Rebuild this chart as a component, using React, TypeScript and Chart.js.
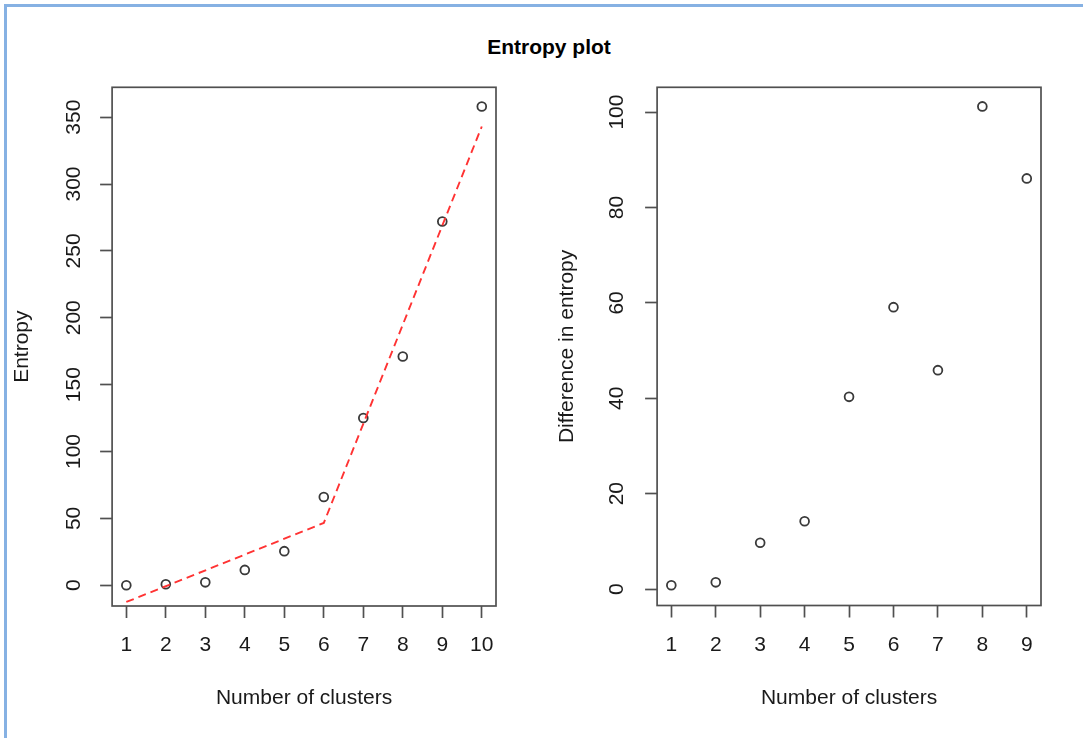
import React, { useEffect, useRef } from "react";
import { Chart, registerables } from "chart.js";

Chart.register(...registerables);

// ---- Data ----
const clusters = [1, 2, 3, 4, 5, 6, 7, 8, 9, 10];
const entropy = [0, 0.8, 2.2, 11.5, 25.5, 66, 125, 171, 272, 358];
const fitClusters = [1, 6, 10];
const fitEntropy = [-12.5, 46.6, 343];
const diffClusters = [1, 2, 3, 4, 5, 6, 7, 8, 9];
const diffEntropy = [0.8, 1.4, 9.7, 14.2, 40.3, 59.1, 45.9, 101.2, 86.1];

const entropyTicks = [0, 50, 100, 150, 200, 250, 300, 350];
const entropyTickLabels = ["0", "50", "100", "150", "200", "250", "300", "350"];
const diffTicks = [0, 20, 40, 60, 80, 100];
const diffTickLabels = ["0", "20", "40", "60", "80", "100"];
const leftXTicks = clusters;
const leftXTickLabels = clusters.map(String);
const rightXTicks = diffClusters;
const rightXTickLabels = diffClusters.map(String);

const FONT = "'Liberation Sans', Arial, sans-serif";
const TEXT = "#1a1a1a";
const AXIS = "#505050";

const framePlugin = {
  id: "frame",
  afterDraw(chart: any) {
    const { ctx, chartArea: a } = chart;
    ctx.save();
    ctx.strokeStyle = AXIS;
    ctx.lineWidth = 1.7;
    ctx.strokeRect(a.left, a.top, a.right - a.left, a.bottom - a.top);
    ctx.restore();
  },
};

function makeConfig(p: any) {
  const font = { family: FONT, size: 21 };
  return {
    type: "scatter",
    data: { datasets: p.datasets },
    options: {
      responsive: false,
      animation: false,
      events: [],
      layout: { padding: p.padding },
      plugins: { legend: { display: false }, tooltip: { enabled: false }, title: { display: false } },
      scales: {
        x: {
          type: "linear",
          position: "bottom",
          min: p.xMin,
          max: p.xMax,
          afterBuildTicks: (s: any) => {
            s.ticks = p.xTicks.map((v: number) => ({ value: v }));
          },
          afterFit: (s: any) => {
            s.height = p.xHeight;
          },
          ticks: {
            font,
            color: TEXT,
            padding: p.xPad,
            minRotation: 0,
            maxRotation: 0,
            autoSkip: false,
            callback: (_v: any, i: number) => p.xTickLabels[i],
          },
          grid: {
            display: true,
            drawOnChartArea: false,
            drawTicks: true,
            tickLength: 12,
            tickColor: AXIS,
            tickWidth: 1.7,
          },
          border: { display: false },
          title: {
            display: true,
            text: "Number of clusters",
            font,
            color: TEXT,
            padding: { top: 0, bottom: 0 },
          },
        },
        y: {
          type: "linear",
          position: "left",
          min: p.yMin,
          max: p.yMax,
          afterBuildTicks: (s: any) => {
            s.ticks = p.yTicks.map((v: number) => ({ value: v }));
          },
          afterFit: (s: any) => {
            s.width = 102;
          },
          ticks: {
            font,
            color: TEXT,
            padding: p.yPad,
            minRotation: 90,
            maxRotation: 90,
            crossAlign: "center",
            autoSkip: false,
            callback: (_v: any, i: number) => p.yTickLabels[i],
          },
          grid: {
            display: true,
            drawOnChartArea: false,
            drawTicks: true,
            tickLength: 12,
            tickColor: AXIS,
            tickWidth: 1.7,
          },
          border: { display: false },
          title: {
            display: true,
            text: p.yTitle,
            font,
            color: TEXT,
            padding: { top: 0, bottom: 0 },
          },
        },
      },
    },
    plugins: [framePlugin],
  };
}

const pointStyle = {
  showLine: false,
  pointStyle: "circle",
  pointRadius: 4.4,
  pointBorderWidth: 1.8,
  borderColor: "#3a3a3a",
  backgroundColor: "rgba(0,0,0,0)",
  pointBackgroundColor: "rgba(0,0,0,0)",
};

export default function App() {
  const leftRef = useRef<HTMLCanvasElement>(null);
  const rightRef = useRef<HTMLCanvasElement>(null);

  useEffect(() => {
    const left = new Chart(
      leftRef.current as any,
      makeConfig({
        padding: { left: 10.1, right: 587, top: 87.3, bottom: 26.7 },
        xMin: 0.64,
        xMax: 10.36,
        xTicks: leftXTicks,
        xTickLabels: leftXTickLabels,
        xHeight: 105.3,
        xPad: 15,
        yMin: -15.5,
        yMax: 372.3,
        yTicks: entropyTicks,
        yTickLabels: entropyTickLabels,
        yPad: 8.4,
        yTitle: "Entropy",
        datasets: [
          {
            type: "line",
            data: fitClusters.map((x, i) => ({ x, y: fitEntropy[i] })),
            borderColor: "#ff3333",
            borderWidth: 1.9,
            borderDash: [8, 5],
            pointRadius: 0,
            fill: false,
            tension: 0,
          },
          {
            type: "scatter",
            data: clusters.map((x, i) => ({ x, y: entropy[i] })),
            ...pointStyle,
          },
        ],
      }) as any
    );
    const right = new Chart(
      rightRef.current as any,
      makeConfig({
        padding: { left: 555.1, right: 42, top: 87.3, bottom: 26.7 },
        xMin: 0.68,
        xMax: 9.32,
        xTicks: rightXTicks,
        xTickLabels: rightXTickLabels,
        xHeight: 105.8,
        xPad: 15.5,
        yMin: -3.45,
        yMax: 105.2,
        yTicks: diffTicks,
        yTickLabels: diffTickLabels,
        yPad: 9.9,
        yTitle: "Difference in entropy",
        datasets: [
          {
            type: "scatter",
            data: diffClusters.map((x, i) => ({ x, y: diffEntropy[i] })),
            ...pointStyle,
          },
        ],
      }) as any
    );
    return () => {
      left.destroy();
      right.destroy();
    };
  }, []);

  const canvasStyle: React.CSSProperties = { position: "absolute", left: 0, top: 0, display: "block" };

  return (
    <div
      style={{
        position: "absolute",
        left: 0,
        top: 0,
        width: 1083,
        height: 738,
        background: "#ffffff",
        overflow: "hidden",
      }}
    >
      <div
        style={{
          position: "absolute",
          left: 4,
          top: 4,
          width: 1100,
          height: 760,
          borderTop: "3px solid #86b1e3",
          borderLeft: "3px solid #86b1e3",
        }}
      />
      <div
        style={{
          position: "absolute",
          left: 349,
          top: 34,
          width: 400,
          textAlign: "center",
          fontFamily: FONT,
          fontWeight: "bold",
          fontSize: 21,
          lineHeight: "26px",
          color: "#000",
        }}
      >
        Entropy plot
      </div>
      <canvas ref={leftRef} width={1083} height={738} style={canvasStyle} />
      <canvas ref={rightRef} width={1083} height={738} style={canvasStyle} />
    </div>
  );
}
